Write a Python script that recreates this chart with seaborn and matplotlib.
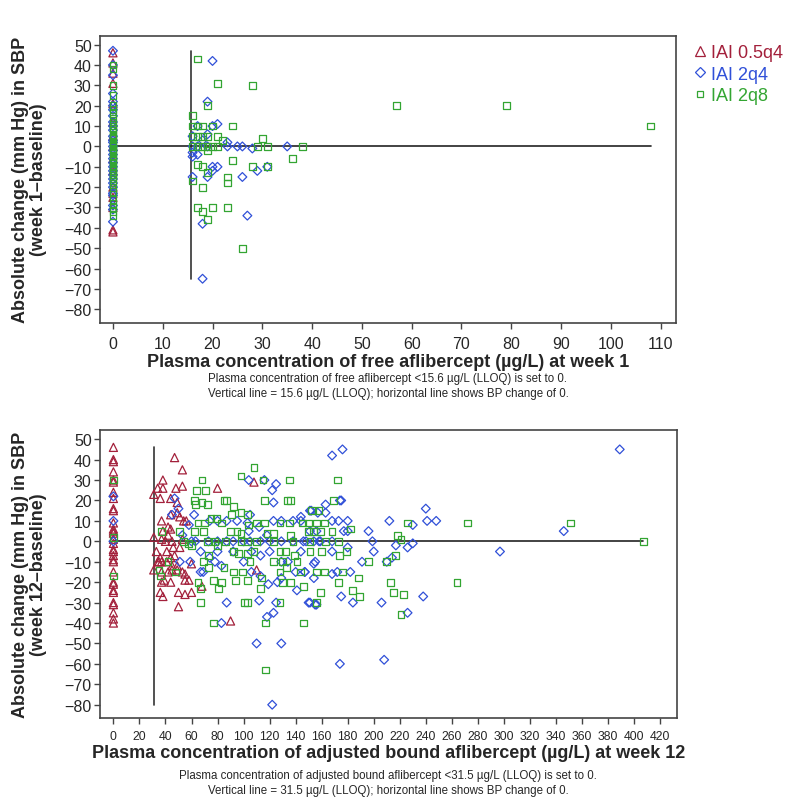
import numpy as np
import pandas as pd
import seaborn as sns
import matplotlib.pyplot as plt
from matplotlib.lines import Line2D

sns.set_style('white')
plt.rcParams['font.family'] = ['Liberation Sans', 'DejaVu Sans']

groups = ['IAI 0.5q4', 'IAI 2q4', 'IAI 2q8']
colors = {'IAI 0.5q4': '#A3203B', 'IAI 2q4': '#3050D8', 'IAI 2q8': '#33A532'}
markers = {'IAI 0.5q4': '^', 'IAI 2q4': 'D', 'IAI 2q8': 's'}
sizes = {'IAI 0.5q4': 34, 'IAI 2q4': 20, 'IAI 2q8': 24}

# week 1: SBP change for patients below LLOQ (concentration set to 0)
w1_blq_05q4 = [46, 41, 36, 31, 21, 12, 5, 0, -6, -12, -20, -23, -25, -30, -41, -42]
w1_blq_2q4 = [47, 40, 35, 26, 22, 20, 18, 15, 12, 10, 8, 5, 3, 2, 0, -2, -4, -6, -8, -10,
              -12, -14, -16, -18, -20, -23, -24, -29, -31, -37]
w1_blq_2q8 = [40, 38, 30, 25, 20, 18, 16, 14, 12, 10, 9, 8, 6, 5, 4, 2, 1, 0, -1, -2, -3, -5,
              -6, -7, -8, -10, -11, -12, -13, -14, -15, -16, -18, -20, -22, -26, -28, -30, -32, -34]

# week 1: measured free aflibercept (x) and SBP change (y)
w1_2q4_x = [20, 19, 21, 20, 17, 16, 19, 18, 23, 16, 17, 19, 23, 25, 26, 28, 35, 16, 16, 17,
            20, 21, 20, 31, 29, 16, 19, 26, 27, 18, 18]
w1_2q4_y = [42, 22, 11, 10, 10, 5, 6, 3, 2, 0, 0, 0, 0, 0, 0, -1, 0, -3, -5, -4,
            -10, -10, -12, -10, -12, -15, -15, -15, -34, -38, -65]
w1_2q8_x = [17, 21, 28, 19, 57, 79, 108, 16, 16, 17, 18, 20, 24, 16, 17, 18, 19, 21, 30, 22,
            16, 17, 18, 19, 20, 21, 29, 31, 38, 19, 36, 24, 17, 18, 28, 31, 19, 23, 16, 23,
            18, 17, 20, 23, 18, 19, 26]
w1_2q8_y = [43, 31, 30, 20, 20, 20, 10, 15, 10, 10, 10, 10, 10, 5, 5, 5, 5, 5, 4, 3,
            0, 0, 0, 0, 0, 0, 0, 0, 0, -2, -6, -7, -9, -10, -10, -10, -13, -15, -17, -18,
            -20, -30, -30, -30, -32, -36, -50]

# week 12: below LLOQ (adjusted bound set to 0)
w12_blq_05q4 = [46, 40, 39, 34, 30, 29, 24, 21, 16, 15, 9, 6, 5, 4, 1, -1, -4, -5, -7, -9,
                -10, -15, -20, -21, -24, -25, -30, -31, -35, -38, -40]
w12_blq_2q4 = [22, 10, 0]
w12_blq_2q8 = [30, 2, -17]

# week 12: measured adjusted bound aflibercept
w12_05q4_x = [31, 31, 31, 34, 36, 38, 38, 37, 38, 37, 33, 36, 35, 34, 37, 37, 39, 37, 36, 38,
              47, 53, 48, 53, 44, 49, 44, 49, 51, 54, 56, 42, 44, 40, 42, 45, 46, 51, 53, 41,
              44, 47, 41, 45, 49, 42, 45, 49, 53, 44, 55, 58, 50, 55, 60, 50, 55, 60, 68, 80,
              108, 110, 90]
w12_05q4_y = [23, 2, -14, 26, 21, 26, 30, 10, 5, 1, -5, -8, -10, -10, -10, -15, -19, -20, -25, -27,
              41, 35, 26, 27, 21, 19, 13, 14, 12, 10, 10, 7, 6, 0, 3, 0, -3, -3, 1, -5,
              -8, -7, -10, -12, -12, -15, -14, -14, -15, -20, -19, -19, -25, -26, -25, -32, -16, -11, -22, 26,
              29, -14, -39]
w12_2q4_x = [47, 45, 50, 62, 58, 53, 60, 63, 73, 80, 87, 92, 67, 74, 80, 69, 67, 78, 83, 59,
             51, 87, 83, 104, 116, 122, 125, 123, 95, 103, 105, 87, 80, 74, 123, 129, 138, 144, 151, 104,
             112, 118, 100, 105, 113, 120, 129, 138, 146, 154, 159, 92, 100, 106, 113, 120, 129, 134, 140, 147,
             154, 106, 113, 119, 126, 129, 141, 112, 118, 123, 110, 129, 150, 156, 125, 122,
             168, 176, 163, 174, 175, 152, 157, 163, 240, 144, 151, 156, 168, 173, 180, 212, 241, 248, 177,
             180, 196, 230, 148, 158, 168, 199, 217, 226, 230, 180, 168, 200, 297, 155, 144, 191, 214, 210,
             147, 154, 168, 172, 182, 151, 155, 175, 184, 206, 238, 226, 174, 208, 346, 389]
w12_2q4_y = [21, 13, 16, 13, 8, 3, 0, 0, 0, 0, 0, 0, -5, -8, -5, -15, -15, -10, -12, -10,
             -10, -30, -40, 30, 30, 25, 28, 19, 10, 9, 13, 10, 10, 10, 10, 10, 10, 12, 15, 5,
             7, 3, 0, 0, 0, 0, 0, 0, 0, 0, 0, -5, -10, -5, -7, -5, -10, -10, -15, -15,
             -11, -15, -17, -21, -20, -18, -24, -29, -37, -35, -50, -50, -30, -31, -30, -80,
             42, 45, 18, 20, 20, 15, 14, 14, 16, 10, 5, 5, 10, 10, 10, 10, 10, 10, 5,
             5, 5, 8, 0, 0, 0, 0, -2, -3, -1, -3, -5, -5, -5, -10, -5, -10, -8, -10,
             -15, -18, -16, -15, -15, -30, -31, -27, -30, -30, -27, -35, -60, -58, 5, 45]
w12_2q8_x = [108, 98, 115, 135, 172, 68, 64, 71, 85, 87, 62, 63, 68, 72, 92, 91, 98, 103, 116, 134,
             136, 158, 152, 75, 65, 70, 79, 83, 110, 116, 128, 135, 145, 150, 156, 162, 169, 62, 69, 90,
             95, 98, 104, 118, 123, 136, 150, 159, 168, 54, 72, 78, 86, 98, 103, 110, 123, 138, 151, 163,
             60, 73, 80, 92, 96, 103, 108, 128, 132, 139, 151, 160, 69, 73, 105, 123, 130, 141, 85, 92,
             99, 114, 128, 133, 144, 156, 162, 65, 77, 83, 94, 103, 113, 130, 136, 146, 159, 67, 81, 67,
             101, 103, 128, 156, 77, 117, 146, 117, 35, 36, 58, 48, 42, 37, 51,
             226, 272, 154, 182, 218, 221, 173, 174, 179, 196, 210, 217, 176, 188, 173, 213, 264, 184, 189, 215,
             223, 221, 351, 407]
w12_2q8_y = [36, 32, 30, 30, 30, 30, 25, 25, 20, 20, 20, 18, 19, 18, 17, 13, 14, 13, 20, 20,
             20, 15, 15, 11, 9, 9, 11, 9, 9, 9, 9, 9, 9, 9, 9, 9, 20, 5, 5, 5,
             5, 4, 8, 4, 4, 3, 5, 5, 5, 0, 0, 0, 0, 0, 0, 0, 0, 0, 0, 0,
             -2, -7, -2, -5, -6, -6, -5, -5, -5, -7, -5, -5, -10, -13, -10, -10, -10, -10, -13, -15,
             -15, -18, -15, -13, -15, -15, -15, -20, -19, -20, -19, -19, -23, -20, -20, -22, -25, -23, -23, -30,
             -30, -30, -30, -30, -40, -40, -40, -63, -14, -17, -1, -15, -10, 5, 5,
             9, 9, 5, 6, 3, 1, 0, -7, -5, -10, -10, -7, -15, -18, -20, -20, -20, -24, -27, -25,
             -26, -36, 9, 0]


def build(blq, measured):
    rows = []
    for g, vals in zip(groups, blq):
        rows += [(g, 0.0, v) for v in vals]
    for g, (x, y) in measured.items():
        rows += [(g, a, b) for a, b in zip(x, y)]
    return pd.DataFrame(rows, columns=['group', 'conc', 'sbp'])


df1 = build([w1_blq_05q4, w1_blq_2q4, w1_blq_2q8],
            {'IAI 2q4': (w1_2q4_x, w1_2q4_y), 'IAI 2q8': (w1_2q8_x, w1_2q8_y)})
df2 = build([w12_blq_05q4, w12_blq_2q4, w12_blq_2q8],
            {'IAI 0.5q4': (w12_05q4_x, w12_05q4_y), 'IAI 2q4': (w12_2q4_x, w12_2q4_y),
             'IAI 2q8': (w12_2q8_x, w12_2q8_y)})

fig = plt.figure(figsize=(7.89, 8.03), dpi=100)
W, H = 789, 803
ax1 = fig.add_axes([100 / W, 1 - 323.5 / H, 576 / W, 287 / H])
ax2 = fig.add_axes([100 / W, 1 - 719 / H, 577 / W, 288 / H])

panels = [
    (ax1, df1, 15.6, (-2.6, 113.1), np.arange(0, 111, 10), 11.5,
     'Absolute change (mm Hg) in SBP\n(week 1\u2013baseline)',
     'Plasma concentration of free aflibercept (\u00b5g/L) at week 1',
     ['Plasma concentration of free aflibercept <15.6 \u00b5g/L (LLOQ) is set to 0.',
      'Vertical line = 15.6 \u00b5g/L (LLOQ); horizontal line shows BP change of 0.'],
     [379, 394]),
    (ax2, df2, 31.5, (-10.3, 433), np.arange(0, 421, 20), 8.8,
     'Absolute change (mm Hg) in SBP\n(week 12\u2013baseline)',
     'Plasma concentration of adjusted bound aflibercept (\u00b5g/L) at week 12',
     ['Plasma concentration of adjusted bound aflibercept <31.5 \u00b5g/L (LLOQ) is set to 0.',
      'Vertical line = 31.5 \u00b5g/L (LLOQ); horizontal line shows BP change of 0.'],
     [776, 791]),
]

for ax, df, lloq, xlim, xticks, xfs, ylab, xlab, notes, note_y in panels:
    # reference lines span the data range
    ax.plot([lloq, lloq], [df.sbp.min(), df.sbp.max()], color='#333333', lw=1.2, zorder=1)
    ax.plot([0, df.conc.max()], [0, 0], color='#222222', lw=1.2, zorder=1)
    for g in groups:
        sub = df[df.group == g]
        if len(sub) == 0:
            continue
        sns.scatterplot(x=sub.conc, y=sub.sbp, ax=ax, marker=markers[g], s=sizes[g],
                        color=colors[g], facecolors='none', edgecolor=colors[g],
                        linewidth=0.9, zorder=3)
    ax.set_xlim(*xlim)
    ax.set_ylim(-86.5, 54.5)
    ax.set_xticks(xticks)
    ax.set_yticks(np.arange(-80, 51, 10))
    ax.set_yticklabels([str(v).replace('-', '\u2212') for v in range(-80, 51, 10)])
    ax.tick_params(axis='both', direction='out', length=4, width=1, color='#444444',
                   left=True, bottom=True)
    ax.tick_params(axis='y', labelsize=11.5, pad=2)
    ax.tick_params(axis='x', labelsize=xfs, pad=6 if xfs > 10 else 5)
    for sp in ax.spines.values():
        sp.set_color('#444444')
        sp.set_linewidth(1.2)
    ax.set_ylabel(ylab, fontsize=13, fontweight='bold', linespacing=1.05)
    ax.yaxis.set_label_coords(-0.092, 0.5)
    ax.set_xlabel(xlab, fontsize=13, fontweight='bold', labelpad=1)
    for t, yy in zip(notes, note_y):
        fig.text(388 / W, 1 - yy / H, t, ha='center', va='center', fontsize=8.3)

handles = [Line2D([], [], ls='none', marker=markers[g],
                  markersize={'IAI 0.5q4': 6.5, 'IAI 2q4': 5.5, 'IAI 2q8': 5}[g],
                  markerfacecolor='none', markeredgecolor=colors[g], markeredgewidth=0.9)
           for g in groups]
leg = ax1.legend(handles, groups, loc='upper left', bbox_to_anchor=(687 / W, 1 - 38 / H),
                 bbox_transform=fig.transFigure, frameon=False, fontsize=13,
                 handlelength=0.6, handletextpad=0.35, labelspacing=0.25, borderaxespad=0)
for txt, g in zip(leg.get_texts(), groups):
    txt.set_color(colors[g])

fig.savefig('out.png', dpi=100)
